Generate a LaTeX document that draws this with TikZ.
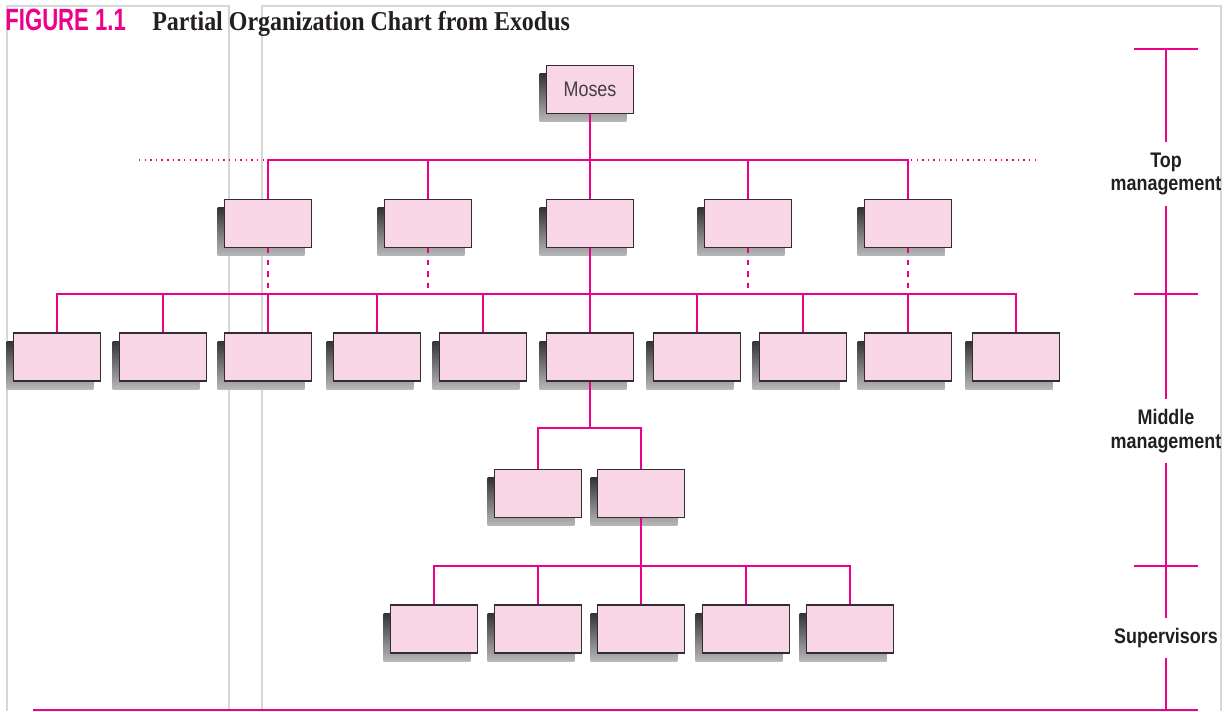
\documentclass[tikz,border=0pt]{standalone}
\usepackage{fontspec}
\setmainfont{Liberation Serif}
\newfontfamily\titleserif[FakeStretch=0.88]{Liberation Serif}
\newfontfamily\condsans[FakeStretch=0.85]{Liberation Sans}
\newfontfamily\figsans[FakeStretch=0.72]{Liberation Sans}
\usepackage{tikz}
\usetikzlibrary{shadows,calc}
\definecolor{orgMagenta}{RGB}{236,0,140}
\definecolor{boxPink}{RGB}{248,214,230}
\definecolor{boxEdge}{RGB}{50,45,50}
\definecolor{frameGray}{RGB}{214,214,214}
\definecolor{textDark}{RGB}{35,31,32}
\tikzset{
  orgbox/.style={
    rectangle, draw=boxEdge, line width=0.75pt, fill=boxPink,
    minimum width=1.74cm, minimum height=0.96cm, inner sep=0pt,
    general shadow={shadow xshift=-0.14cm, shadow yshift=-0.16cm,
      top color=black!80, bottom color=black!28}
  },
  orgline/.style={draw=orgMagenta, line width=0.85pt},
  levellabel/.style={
    font=\condsans\bfseries\fontsize{12}{13.6}\selectfont, text=textDark,
    align=center, inner sep=0.2cm
  }
}

\begin{document}
\begin{tikzpicture}[x=0.02cm, y=-0.02cm,
    dotline/.style={orgline, dash pattern=on 0.8pt off 2.4pt},
    dashline/.style={orgline, dash pattern=on 3pt off 3.6pt},
    frameline/.style={draw=frameGray, line width=0.8pt}]
  \useasboundingbox (0,0) rectangle (1228,711);
  % page frame
  \draw[frameline] (7,711) -- (7,6) -- (229,6) -- (229,711);
  \draw[frameline] (262,711) -- (262,6) -- (1221,6) -- (1221,711);
  % title
  \node[anchor=base west, inner sep=0pt, text=orgMagenta,
        font=\figsans\bfseries\fontsize{17.5}{20}\selectfont] (figno) at (5,30) {FIGURE 1.1};
  \node[anchor=base west, inner sep=0pt, text=textDark,
        font=\titleserif\bfseries\fontsize{15.5}{18}\selectfont] (figtitle) at (152,30) {Partial Organization Chart from Exodus};
  % boxes
  \node[orgbox, text=black!75, font=\condsans\fontsize{12}{14}\selectfont] (moses) at (590,89.5) {Moses};
  \node[orgbox] (t1) at (268,223.5) {};
  \node[orgbox] (t2) at (428,223.5) {};
  \node[orgbox] (t3) at (590,223.5) {};
  \node[orgbox] (t4) at (748,223.5) {};
  \node[orgbox] (t5) at (908,223.5) {};
  \node[orgbox] (m1)  at (57,357)   {};
  \node[orgbox] (m2)  at (163,357)  {};
  \node[orgbox] (m3)  at (268,357)  {};
  \node[orgbox] (m4)  at (377,357)  {};
  \node[orgbox] (m5)  at (483,357)  {};
  \node[orgbox] (m6)  at (590,357)  {};
  \node[orgbox] (m7)  at (697,357)  {};
  \node[orgbox] (m8)  at (803,357)  {};
  \node[orgbox] (m9)  at (908,357)  {};
  \node[orgbox] (m10) at (1016,357) {};
  \node[orgbox] (l1) at (538,493.5) {};
  \node[orgbox] (l2) at (641,493.5) {};
  \node[orgbox] (s1) at (434,629) {};
  \node[orgbox] (s2) at (538,629) {};
  \node[orgbox] (s3) at (641,629) {};
  \node[orgbox] (s4) at (746,629) {};
  \node[orgbox] (s5) at (850,629) {};
  % buses
  \coordinate (topbus) at (590,160);
  \coordinate (midbus) at (590,294);
  \coordinate (lowbus) at (590,428);
  \coordinate (supbus) at (641,566);
  \coordinate (dotL) at (139,160);
  \coordinate (dotR) at (1036,160);
  \draw[orgline] (moses) -- (t3);
  \draw[orgline] (t1.north) |- (topbus) -| (t5.north);
  \draw[orgline] (t2.north) -- (t2.north |- topbus);
  \draw[orgline] (t4.north) -- (t4.north |- topbus);
  \draw[dotline] (dotL) -- (t1.north |- topbus);
  \draw[dotline] (dotR) -- (t5.north |- topbus);
  \draw[orgline] (t3) -- (m6);
  \draw[orgline] (m1.north) |- (midbus) -| (m10.north);
  \draw[orgline] (m2.north) -- (m2.north |- midbus);
  \draw[orgline] (m3.north) -- (m3.north |- midbus);
  \draw[orgline] (m4.north) -- (m4.north |- midbus);
  \draw[orgline] (m5.north) -- (m5.north |- midbus);
  \draw[orgline] (m7.north) -- (m7.north |- midbus);
  \draw[orgline] (m8.north) -- (m8.north |- midbus);
  \draw[orgline] (m9.north) -- (m9.north |- midbus);
  \draw[dashline] (t1.south) -- (t1.south |- midbus);
  \draw[dashline] (t2.south) -- (t2.south |- midbus);
  \draw[dashline] (t4.south) -- (t4.south |- midbus);
  \draw[dashline] (t5.south) -- (t5.south |- midbus);
  \draw[orgline] (m6.south) -- (lowbus);
  \draw[orgline] (l1.north) |- (lowbus) -| (l2.north);
  \draw[orgline] (l2) -- (s3);
  \draw[orgline] (s1.north) |- (supbus) -| (s5.north);
  \draw[orgline] (s2.north) -- (s2.north |- supbus);
  \draw[orgline] (s4.north) -- (s4.north |- supbus);
  % level scale
  \node[levellabel] (toplab) at (1166,174) {Top\\management};
  \node[levellabel] (midlab) at (1166,431) {Middle\\management};
  \node[levellabel] (suplab) at (1166,638) {Supervisors};
  \coordinate (scaletop) at (1166,49);
  \coordinate (tickmid) at (1166,294);
  \coordinate (ticksup) at (1166,566);
  \coordinate (scalebot) at (1166,710);
  \draw[orgline] (scaletop) -- (toplab);
  \draw[orgline] (toplab) -- (midlab);
  \draw[orgline] (midlab) -- (suplab);
  \draw[orgline] (suplab) -- (scalebot);
  \draw[orgline] ([xshift=-0.64cm]scaletop) -- ([xshift=0.64cm]scaletop);
  \draw[orgline] ([xshift=-0.64cm]tickmid) -- ([xshift=0.64cm]tickmid);
  \draw[orgline] ([xshift=-0.64cm]ticksup) -- ([xshift=0.64cm]ticksup);
  \draw[orgline, line width=1.1pt] (33,710) -- ([xshift=0.64cm]scalebot);
\end{tikzpicture}
\end{document}
